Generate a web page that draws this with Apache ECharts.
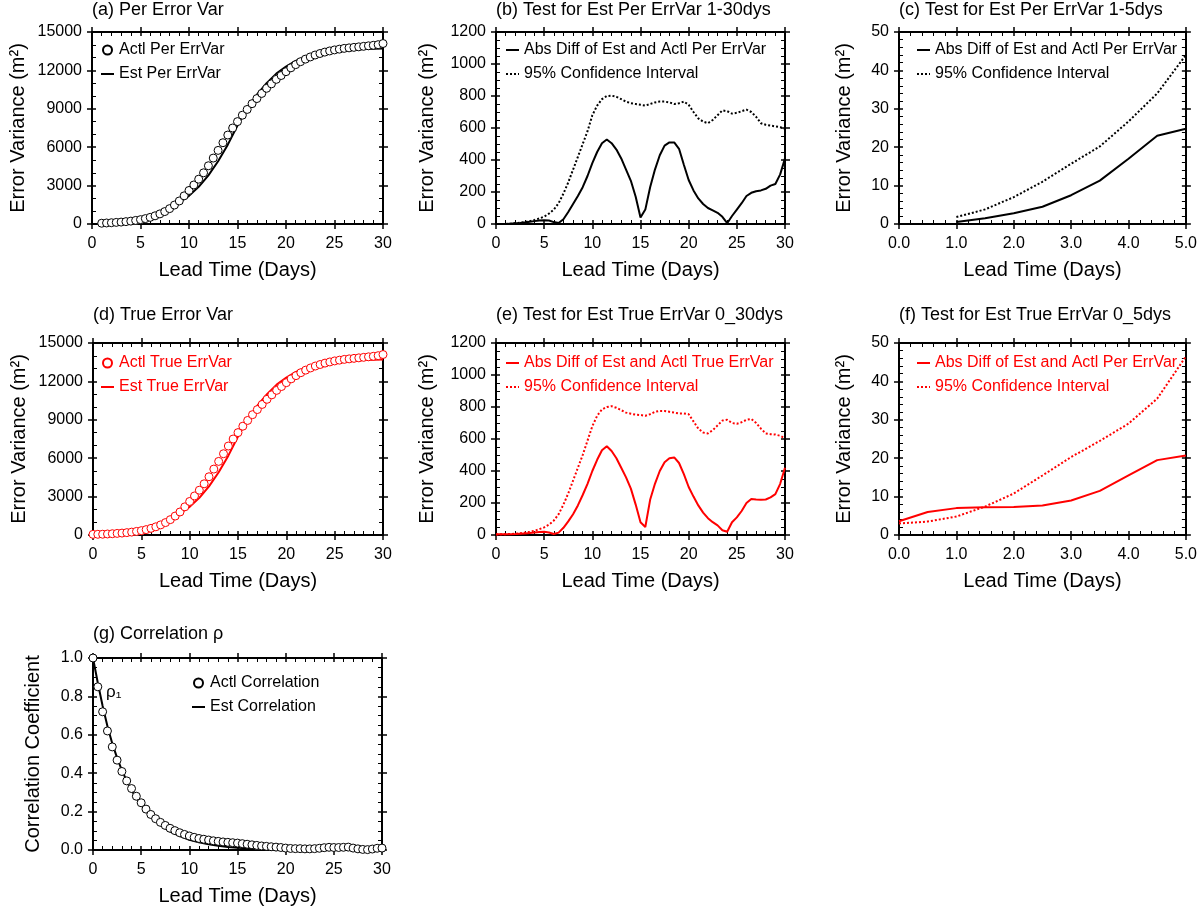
<!DOCTYPE html>
<html lang="en">
<head>
<meta charset="UTF-8">
<title>Error variance tests</title>
<script src="https://cdn.jsdelivr.net/npm/echarts@6/dist/echarts.min.js"></script>
<style>
  html, body { margin: 0; padding: 0; background: #fff; }
  #main { width: 1200px; height: 911px; }
</style>
</head>
<body>
<div id="main"></div>
<script>
// lead times (days)
const leadHalf1 = [1, 1.5, 2, 2.5, 3, 3.5, 4, 4.5, 5, 5.5, 6, 6.5, 7, 7.5, 8, 8.5, 9, 9.5, 10, 10.5,
  11, 11.5, 12, 12.5, 13, 13.5, 14, 14.5, 15, 15.5, 16, 16.5, 17, 17.5, 18, 18.5, 19, 19.5, 20, 20.5,
  21, 21.5, 22, 22.5, 23, 23.5, 24, 24.5, 25, 25.5, 26, 26.5, 27, 27.5, 28, 28.5, 29, 29.5, 30];
const leadHalf0 = [0, 0.5].concat(leadHalf1);
const leadDay1 = [1, 2, 3, 4, 5, 6, 7, 8, 9, 10, 11, 12, 13, 14, 15, 16, 17, 18, 19, 20,
  21, 22, 23, 24, 25, 26, 27, 28, 29, 30];
const leadDay0 = [0].concat(leadDay1);
const leadShort1 = [1, 1.5, 2, 2.5, 3, 3.5, 4, 4.5, 5];
const leadShort0 = [0, 0.5].concat(leadShort1);
const leadCorrEst = [0, 0.5, 1, 1.5, 2, 2.5, 3, 3.5, 4, 5, 6, 7, 8, 9, 10, 11, 12, 13, 14, 15, 16, 17, 18, 20, 22, 25, 30];

// (a) perturbation error variance
const actlPerVar = [60, 80, 100, 125, 150, 185, 225, 280, 340, 420, 520, 640, 790, 970, 1200, 1480, 1800, 2200, 2620, 3050,
  3500, 4000, 4550, 5150, 5750, 6350, 6950, 7500, 8000, 8500, 8950, 9400, 9800, 10200, 10600, 10950, 11300, 11600, 11900, 12200,
  12450, 12680, 12880, 13050, 13200, 13320, 13430, 13520, 13600, 13660, 13720, 13760, 13800, 13840, 13880, 13920, 13960, 14010, 14100];
const estPerVar = [50, 80, 130, 210, 330, 520, 800, 1200, 1700, 2200, 2900, 3800, 4900, 6200, 7700, 9000, 10100, 11000, 11750, 12300,
  12750, 13080, 13300, 13450, 13550, 13610, 13650, 13680, 13700, 13710];

// (b) test 1-30 days
const absDiffPer = [0, 2, 4, 6, 10, 14, 18, 22, 24, 22, 12, 6, 30, 75, 125, 175, 230, 300, 380, 450,
  505, 528, 505, 465, 410, 340, 270, 170, 40, 90, 230, 340, 430, 490, 510, 510, 470, 370, 275, 210,
  160, 125, 100, 85, 70, 45, 5, 50, 90, 130, 175, 195, 205, 210, 220, 240, 250, 310, 410];
const ciPer = [0, 2, 5, 8, 12, 18, 25, 35, 46, 65, 90, 130, 190, 260, 340, 420, 500, 580, 680, 740,
  780, 800, 802, 795, 780, 765, 755, 750, 745, 740, 750, 760, 765, 765, 760, 750, 755, 765, 745, 700,
  660, 640, 630, 650, 680, 710, 705, 690, 695, 705, 715, 700, 670, 630, 620, 615, 610, 605, 595];

// (c) test 1-5 days
const absDiffPer5 = [0.5, 1.5, 2.8, 4.5, 7.5, 11.3, 17, 23, 24.8];
const ciPer5 = [1.8, 3.8, 7, 11, 15.7, 20.2, 26.7, 34, 44];

// (d) true error variance
const actlTrueVar = [50, 55, 60, 80, 100, 125, 150, 185, 225, 280, 340, 420, 520, 640, 790, 970, 1200, 1480, 1800, 2200, 2620, 3050,
  3500, 4000, 4550, 5150, 5750, 6350, 6950, 7500, 8000, 8500, 8950, 9400, 9800, 10200, 10600, 10950, 11300, 11600, 11900, 12200,
  12450, 12680, 12880, 13050, 13200, 13320, 13430, 13520, 13600, 13660, 13720, 13760, 13800, 13840, 13880, 13920, 13960, 14010, 14100];
const estTrueVar = [40, 50, 80, 130, 210, 330, 520, 800, 1200, 1700, 2200, 2900, 3800, 4900, 6200, 7700, 9000, 10100, 11000, 11750, 12300,
  12750, 13080, 13300, 13450, 13550, 13610, 13650, 13680, 13700, 13710];

// (e) test 0-30 days
const absDiffTrue = [5, 5, 5, 5, 6, 8, 10, 12, 15, 18, 20, 16, 6, 15, 45, 85, 130, 185, 250, 320,
  400, 470, 530, 555, 525, 480, 420, 360, 290, 190, 80, 50, 220, 320, 400, 455, 480, 485, 450, 380,
  300, 240, 185, 140, 105, 80, 60, 30, 20, 80, 110, 150, 200, 225, 222, 220, 222, 235, 255, 320, 420];
const ciTrue = [3, 4, 5, 6, 8, 11, 15, 20, 27, 36, 48, 65, 90, 130, 190, 260, 340, 420, 500, 590,
  680, 745, 785, 800, 805, 795, 780, 765, 758, 752, 750, 745, 755, 770, 775, 775, 770, 765, 760, 760,
  755, 710, 665, 640, 635, 655, 685, 715, 720, 700, 695, 705, 720, 725, 700, 665, 635, 630, 628, 620, 605];

// (f) test 0-5 days
const absDiffTrue5 = [3.6, 6, 7, 7.2, 7.3, 7.7, 9, 11.5, 15.5, 19.5, 20.7];
const ciTrue5 = [3.0, 3.5, 4.8, 7.4, 10.8, 15.5, 20.3, 24.5, 29, 35.5, 46.5];

// (g) correlation
const actlCorr = [1.0, 0.85, 0.72, 0.62, 0.537, 0.468, 0.409, 0.36, 0.32, 0.28,
  0.246, 0.213, 0.185, 0.163, 0.144, 0.128, 0.113, 0.101, 0.09, 0.081,
  0.073, 0.066, 0.06, 0.056, 0.052, 0.048, 0.045, 0.042, 0.04, 0.038,
  0.036, 0.033, 0.03, 0.027, 0.024, 0.021, 0.019, 0.017, 0.015, 0.013,
  0.01, 0.008, 0.007, 0.007, 0.006, 0.006, 0.007, 0.009, 0.012, 0.014,
  0.013, 0.013, 0.014, 0.015, 0.01, 0.006, 0.003, 0.002, 0.005, 0.009, 0.01];
const estCorr = [1.0, 0.87, 0.75, 0.645, 0.555, 0.48, 0.415, 0.36, 0.31, 0.235, 0.175, 0.13, 0.097, 0.072,
  0.053, 0.04, 0.03, 0.022, 0.016, 0.012, 0.009, 0.007, 0.005, 0.003, 0.002, 0.001, 0.0];

const FONT = '"Liberation Sans", Helvetica, Arial, sans-serif';
const BLACK = '#000';
const RED = '#ff0000';

const plain = v => String(v);
const oneDec = v => v.toFixed(1);
const xDays = { min: 0, max: 30, interval: 5, minor: 5, fmt: plain };
const xShort = { min: 0, max: 5, interval: 1, minor: 5, fmt: oneDec };
const yVar = { min: 0, max: 15000, interval: 3000, minor: 3, fmt: plain };
const yDiff = { min: 0, max: 1200, interval: 200, minor: 4, fmt: plain };
const yDiff5 = { min: 0, max: 50, interval: 10, minor: 5, fmt: plain };
const yCorr = { min: 0, max: 1, interval: 0.2, minor: 4, fmt: oneDec };

const ERRVAR = 'Error Variance (m²)';
const LEAD = 'Lead Time (Days)';

const panels = [
  { key: 'a', title: '(a) Per Error Var', titleTop: 1, color: BLACK,
    grid: { left: 92, top: 32, width: 291, height: 192 }, x: xDays, y: yVar, yName: ERRVAR, yGap: 64,
    legend: { left: 100, top: 42 },
    series: [
      { name: 'Actl Per ErrVar', kind: 'circle', x: leadHalf1, y: actlPerVar },
      { name: 'Est Per ErrVar', kind: 'solid', x: leadDay1, y: estPerVar }
    ] },
  { key: 'b', title: '(b) Test for Est Per ErrVar 1-30dys', titleTop: 1, color: BLACK,
    grid: { left: 496, top: 32, width: 289, height: 192 }, x: xDays, y: yDiff, yName: ERRVAR, yGap: 59,
    legend: { left: 505, top: 42 },
    series: [
      { name: 'Abs Diff of Est and Actl Per ErrVar', kind: 'solid', x: leadHalf1, y: absDiffPer },
      { name: '95% Confidence Interval', kind: 'dotted', x: leadHalf1, y: ciPer }
    ] },
  { key: 'c', title: '(c) Test for Est Per ErrVar 1-5dys', titleTop: 1, color: BLACK,
    grid: { left: 899, top: 32, width: 289, height: 192 }, x: xShort, y: yDiff5, yName: ERRVAR, yGap: 45,
    legend: { left: 916, top: 42 },
    series: [
      { name: 'Abs Diff of Est and Actl Per ErrVar', kind: 'solid', x: leadShort1, y: absDiffPer5 },
      { name: '95% Confidence Interval', kind: 'dotted', x: leadShort1, y: ciPer5 }
    ] },
  { key: 'd', title: '(d) True Error Var', titleTop: 306, color: RED,
    grid: { left: 93, top: 343, width: 290, height: 192 }, x: xDays, y: yVar, yName: ERRVAR, yGap: 64,
    legend: { left: 100, top: 355 },
    series: [
      { name: 'Actl True ErrVar', kind: 'circle', x: leadHalf0, y: actlTrueVar },
      { name: 'Est True ErrVar', kind: 'solid', x: leadDay0, y: estTrueVar }
    ] },
  { key: 'e', title: '(e) Test for Est True ErrVar 0_30dys', titleTop: 306, color: RED,
    grid: { left: 496, top: 343, width: 289, height: 192 }, x: xDays, y: yDiff, yName: ERRVAR, yGap: 59,
    legend: { left: 505, top: 355 },
    series: [
      { name: 'Abs Diff of Est and Actl True ErrVar', kind: 'solid', x: leadHalf0, y: absDiffTrue },
      { name: '95% Confidence Interval', kind: 'dotted', x: leadHalf0, y: ciTrue }
    ] },
  { key: 'f', title: '(f) Test for Est True ErrVar 0_5dys', titleTop: 306, color: RED,
    grid: { left: 899, top: 343, width: 289, height: 192 }, x: xShort, y: yDiff5, yName: ERRVAR, yGap: 45,
    legend: { left: 916, top: 355 },
    series: [
      { name: 'Abs Diff of Est and Actl Per ErrVar', kind: 'solid', x: leadShort0, y: absDiffTrue5 },
      { name: '95% Confidence Interval', kind: 'dotted', x: leadShort0, y: ciTrue5 }
    ] },
  { key: 'g', title: '(g) Correlation ρ', titleTop: 625, color: BLACK,
    grid: { left: 93, top: 658, width: 289, height: 192 }, x: xDays, y: yCorr, yName: 'Correlation Coefficient', yGap: 50,
    legend: { left: 191, top: 675 },
    series: [
      { name: 'Actl Correlation', kind: 'circle', x: leadHalf0, y: actlCorr },
      { name: 'Est Correlation', kind: 'solid', x: leadCorrEst, y: estCorr }
    ] }
];

// outward major ticks + inward minor ticks, on all four sides
function frameAxes(dim, p, gi) {
  const s = dim === 'x' ? p.x : p.y;
  const sides = dim === 'x' ? ['bottom', 'top'] : ['left', 'right'];
  const base = {
    type: 'value', gridIndex: gi, min: s.min, max: s.max, interval: s.interval,
    splitLine: { show: false }, silent: true
  };
  const outer = (pos, main) => {
    const ax = Object.assign({}, base, {
      position: pos,
      axisLine: { show: true, onZero: false, lineStyle: { color: BLACK, width: 2 } },
      axisTick: { show: true, inside: false, length: 5, lineStyle: { color: BLACK, width: 1.5 } },
      minorTick: { show: false },
      axisLabel: { show: false }
    });
    if (main) {
      ax.axisLabel = {
        show: true, color: BLACK, fontSize: 16, fontFamily: FONT,
        margin: dim === 'x' ? 12 : 10, formatter: s.fmt
      };
      ax.name = dim === 'x' ? LEAD : p.yName;
      ax.nameLocation = 'middle';
      ax.nameGap = dim === 'x' ? 36 : p.yGap;
      ax.nameTextStyle = { color: BLACK, fontSize: 20, fontFamily: FONT };
    }
    return ax;
  };
  const inner = pos => Object.assign({}, base, {
    position: pos,
    axisLine: { show: false, onZero: false },
    axisTick: { show: true, inside: true, length: 4, lineStyle: { color: BLACK, width: 1.5 } },
    minorTick: { show: true, splitNumber: s.minor, length: 4, lineStyle: { color: BLACK, width: 1 } },
    axisLabel: { show: false }
  });
  return [outer(sides[0], true), inner(sides[0]), outer(sides[1], false), inner(sides[1])];
}

function makeSeries(s, p, xi, yi) {
  const data = s.x.map((d, k) => [d, s.y[k]]);
  const common = {
    name: p.key + '#' + s.name, xAxisIndex: xi, yAxisIndex: yi, data: data, silent: true
  };
  if (s.kind === 'circle') {
    return Object.assign(common, {
      type: 'scatter', symbol: 'circle', symbolSize: 8, z: 3,
      itemStyle: { color: '#fff', borderColor: p.color, borderWidth: 1, opacity: 1 }
    });
  }
  return Object.assign(common, {
    type: 'line', symbol: 'none', showSymbol: false, z: 2,
    itemStyle: { color: p.color },
    lineStyle: { color: p.color, width: 2, type: s.kind === 'dotted' ? 'dotted' : 'solid' }
  });
}

const option = {
  animation: false,
  backgroundColor: '#fff',
  textStyle: { fontFamily: FONT },
  title: [], grid: [], xAxis: [], yAxis: [], legend: [], series: [],
  graphic: [{
    type: 'text', left: 106, top: 684,
    style: { text: 'ρ₁', fontSize: 17, fontFamily: FONT, fill: BLACK }
  }]
};

panels.forEach((p, gi) => {
  option.grid.push(Object.assign({ show: false }, p.grid));
  option.title.push({
    text: p.title, left: p.grid.left, top: p.titleTop, padding: 0,
    textStyle: { fontSize: 18, fontWeight: 'normal', color: BLACK, fontFamily: FONT }
  });
  const xi = option.xAxis.length;
  const yi = option.yAxis.length;
  frameAxes('x', p, gi).forEach(a => option.xAxis.push(a));
  frameAxes('y', p, gi).forEach(a => option.yAxis.push(a));
  p.series.forEach(s => option.series.push(makeSeries(s, p, xi, yi)));
  option.legend.push({
    orient: 'vertical', left: p.legend.left, top: p.legend.top, padding: 0,
    itemGap: 8, itemWidth: 13, itemHeight: 9, selectedMode: false,
    // line entries: hide the marker so only the line sample shows
    data: p.series.map(s => s.kind === 'circle'
      ? { name: p.key + '#' + s.name }
      : { name: p.key + '#' + s.name, itemStyle: { opacity: 0 } }),
    formatter: n => n.split('#')[1],
    textStyle: { fontSize: 16, color: p.color, fontFamily: FONT }
  });
});

const chart = echarts.init(document.getElementById('main'));
chart.setOption(option);
</script>
</body>
</html>
